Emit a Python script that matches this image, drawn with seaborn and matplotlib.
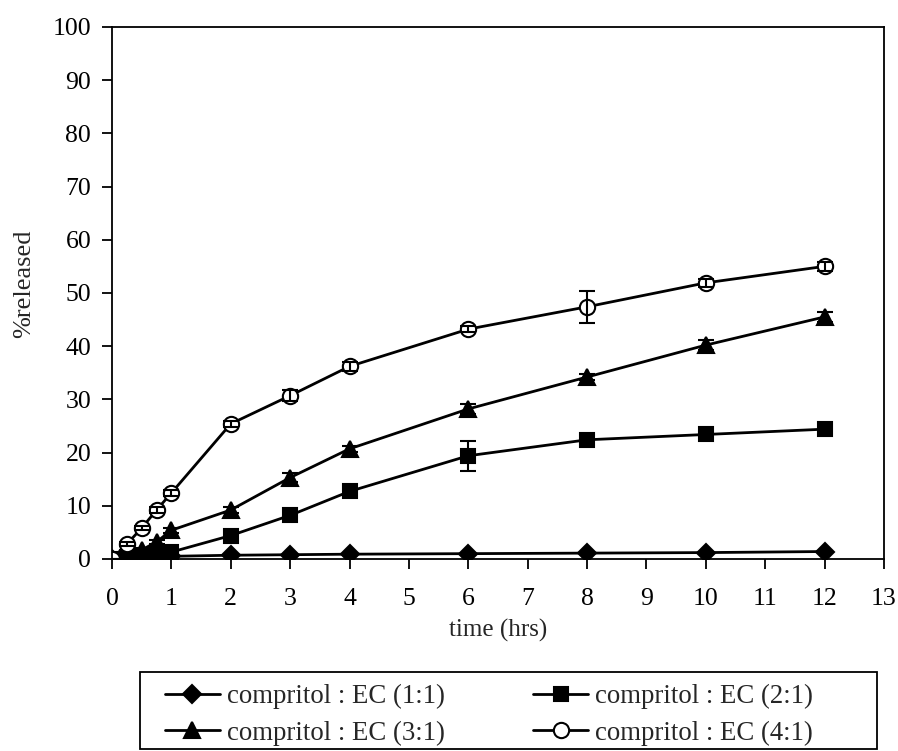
import matplotlib
matplotlib.use("Agg")
import matplotlib.pyplot as plt
from matplotlib.patches import Rectangle
import seaborn as sns

# data
time_hrs = [0, 0.25, 0.5, 0.75, 1, 2, 3, 4, 6, 8, 10, 12]
labels = ["compritol : EC (1:1)", "compritol : EC (2:1)",
          "compritol : EC (3:1)", "compritol : EC (4:1)"]
rel_11 = [0, 0.2, 0.3, 0.4, 0.5, 0.7, 0.8, 0.9, 1.0, 1.1, 1.2, 1.4]
rel_21 = [0, 0.3, 0.6, 0.9, 1.3, 4.4, 8.2, 12.7, 19.4, 22.4, 23.4, 24.4]
rel_31 = [0, 0.8, 1.7, 3.2, 5.4, 9.2, 15.3, 20.7, 28.2, 34.2, 40.2, 45.5]
rel_41 = [0, 2.8, 5.8, 9.2, 12.4, 25.4, 30.7, 36.2, 43.2, 47.4, 51.9, 55.0]
sd_11 = [0, 0, 0, 0, 0.1, 0.1, 0.1, 0.1, 0.1, 0.1, 0.1, 0.1]
sd_21 = [0, 0.1, 0.2, 0.2, 0.3, 0.5, 0.5, 0.6, 2.8, 0.6, 0.6, 0.6]
sd_31 = [0, 0.2, 0.3, 0.3, 0.5, 0.6, 0.8, 0.6, 0.9, 0.6, 0.9, 0.9]
sd_41 = [0, 0.3, 0.4, 0.6, 0.6, 0.6, 1.1, 0.8, 0.6, 3.0, 0.8, 0.9]

sns.set_style("ticks")
plt.rcParams["font.family"] = ["Liberation Serif", "DejaVu Serif"]

fig = plt.figure(figsize=(8.98, 7.51), dpi=100)
ax = fig.add_axes([0.1247, 0.2557, 0.8597, 0.7084])

series = [
    (rel_11, sd_11, "D", "black", 9),
    (rel_21, sd_21, "s", "black", 10.5),
    (rel_31, sd_31, "^", "black", 12),
    (rel_41, sd_41, "o", "white", 11),
]

for (vals, sd, mk, face, ms), lab in zip(series, labels):
    sns.lineplot(x=time_hrs, y=vals, ax=ax, color="black", linewidth=2,
                 marker=mk, markersize=ms, markerfacecolor=face,
                 markeredgecolor="black", markeredgewidth=1.5, label=lab,
                 legend=False)
    ax.errorbar(time_hrs, vals, yerr=sd, fmt="none", ecolor="black",
                elinewidth=1.5, capsize=6, capthick=1.5)

lines = [l for l in ax.lines if l.get_label() in labels]

ax.set_xlim(0, 13)
ax.set_ylim(0, 100)
ax.set_xticks(range(0, 14))
ax.set_yticks(range(0, 101, 10))
ax.tick_params(axis="both", labelsize=18.5, direction="out", length=7,
               width=1.3, colors="black")
ax.tick_params(axis="x", pad=14)
ax.tick_params(axis="y", pad=8)
for sp in ax.spines.values():
    sp.set_visible(True)
    sp.set_color("black")
    sp.set_linewidth(1.3)

ax.set_xlabel("time (hrs)", fontsize=18, labelpad=6)
ax.set_ylabel("%released", fontsize=19)
ax.yaxis.set_label_coords(-0.10, 0.517)

# legend is filled column-wise, so reorder to get 1:1 / 2:1 on the top row
order = [0, 2, 1, 3]
leg = fig.legend([lines[i] for i in order], [labels[i] for i in order],
                 ncol=2, loc="upper left",
                 bbox_to_anchor=(165 / 898, 1 - 684 / 751),
                 fontsize=19.3, frameon=False,
                 handlelength=2.05, handletextpad=0.26, borderaxespad=0,
                 labelspacing=0.42, borderpad=0, columnspacing=3.3)

# plain rectangular frame around the legend
fig.patches.append(Rectangle((140 / 898, 1 - 749 / 751), 737 / 898, 77 / 751,
                             transform=fig.transFigure, fill=False,
                             edgecolor="black", linewidth=1.3))

fig.savefig("out.png", dpi=100)
